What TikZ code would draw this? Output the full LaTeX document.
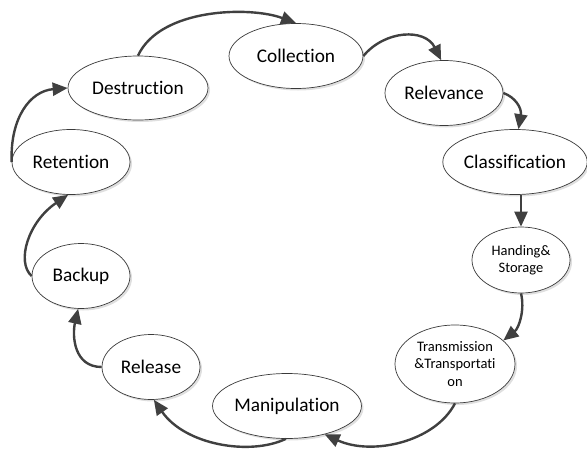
\documentclass[tikz,border=0pt]{standalone}
\usepackage{fontspec}
\setmainfont{Carlito}[Ligatures={NoCommon}]
\usetikzlibrary{shapes.geometric,arrows.meta,shadows}
\definecolor{arrowgray}{HTML}{404040}
\definecolor{rimgray}{HTML}{3A3A3A}
\begin{document}
\begin{tikzpicture}[x=1pt,y=-1pt,
  stage/.style={ellipse, draw=rimgray, line width=0.7pt, fill=white, inner sep=0pt,
    drop shadow={shadow xshift=2pt, shadow yshift=-2pt, fill=black!18, opacity=0.7},
    font=\fontsize{19.3}{23}\selectfont},
  smallstage/.style={stage, align=center, font=\fontsize{14.5}{17.5}\selectfont},
  flow/.style={draw=arrowgray, line width=2.4pt,
    -{Triangle[length=15pt,width=13pt]}}]
\useasboundingbox (0,0) rectangle (587,450);

% the ten stages of the cycle
\node[stage, minimum width=134pt, minimum height=65pt] (collection) at (296,56) {Collection};
\node[stage, minimum width=118pt, minimum height=65pt] (relevance) at (444,93) {Relevance};
\node[stage, minimum width=142pt, minimum height=65pt] (classification) at (515,162) {Classification};
\node[smallstage, minimum width=98pt, minimum height=66pt] (handing) at (521,260) {Handing\&\\Storage};
\node[smallstage, minimum width=120pt, minimum height=78pt] (transmission) at (455,364) {Transmission\\\&Transportati\\on};
\node[stage, minimum width=148pt, minimum height=65pt] (manipulation) at (287,406) {Manipulation};
\node[stage, minimum width=98pt, minimum height=65pt] (release) at (151,367) {Release};
\node[stage, minimum width=98pt, minimum height=65pt] (backup) at (81,276) {Backup};
\node[stage, minimum width=118pt, minimum height=65pt] (retention) at (71,162) {Retention};
\node[stage, minimum width=140pt, minimum height=64pt] (destruction) at (138,88) {Destruction};

% curved connectors running clockwise
\draw[flow] (destruction.north) .. controls (160,8) and (250,6) .. (collection.north);
\draw[flow] (collection.east) .. controls (385,30) and (425,28) .. (relevance.95);
\draw[flow] (relevance.east) .. controls (515,97) and (522,108) .. (classification.84);
\draw[flow] (handing.north |- classification.south) -- (handing.north);
\draw[flow] (handing.south) .. controls (525,310) and (519,328) .. (transmission.26);
\draw[flow] (transmission.south) .. controls (435,442) and (372,456) .. (manipulation.-37);
\draw[flow] (manipulation.-92) .. controls (250,456) and (185,445) .. (release.-85);
\draw[flow] (release.west) .. controls (74,367) and (72,336) .. (backup.-95);
\draw[flow] (backup.west) .. controls (16,262) and (28,222) .. (retention.-95);
\draw[flow] (retention.west) .. controls (10,118) and (30,91) .. (destruction.west);
\end{tikzpicture}
\end{document}
